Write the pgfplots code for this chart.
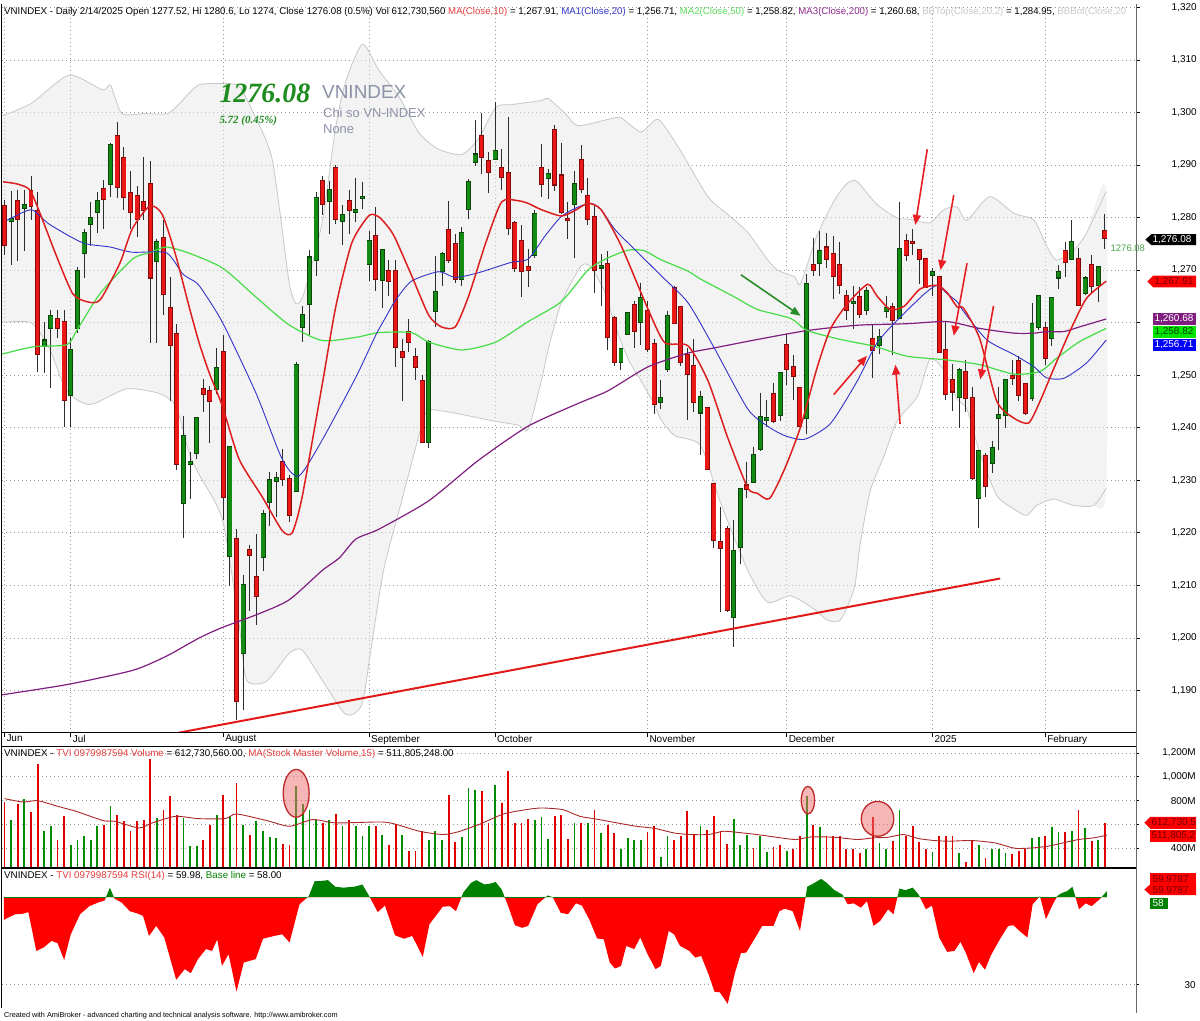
\documentclass[border=0pt]{standalone}
\usepackage{fontspec}
\setmainfont{Liberation Sans}
\newfontfamily\timesfont{Liberation Serif}
\usepackage{pgfplots}
\usepackage{pgfplotstable}
\pgfplotsset{compat=1.18}
\usetikzlibrary{arrows.meta}

\definecolor{cup}{RGB}{20,140,20}
\definecolor{cdn}{RGB}{236,24,24}
\definecolor{cupd}{RGB}{10,70,10}
\definecolor{cdnd}{RGB}{130,10,10}
\definecolor{wick}{RGB}{45,45,45}
\definecolor{ma10}{RGB}{220,30,30}
\definecolor{ma20}{RGB}{50,50,200}
\definecolor{ma50}{RGB}{70,220,70}
\definecolor{ma200}{RGB}{128,30,128}
\definecolor{bbline}{RGB}{200,200,200}
\definecolor{trend}{RGB}{225,25,25}
\definecolor{vgreen}{RGB}{0,140,0}
\definecolor{vred}{RGB}{225,0,0}
\definecolor{vma}{RGB}{170,40,40}
\definecolor{rsired}{RGB}{255,0,0}
\definecolor{rsigreen}{RGB}{0,128,0}
\definecolor{hdrred}{RGB}{230,60,60}
\definecolor{hdrblue}{RGB}{50,50,200}
\definecolor{hdrgreen}{RGB}{90,220,90}
\definecolor{hdrpurple}{RGB}{140,40,140}
\definecolor{hdrgray}{RGB}{200,200,200}
\definecolor{bigtxt}{RGB}{30,140,30}
\definecolor{symgray}{RGB}{140,146,168}
\definecolor{ellfill}{RGB}{240,110,110}
\definecolor{elldraw}{RGB}{190,40,40}
\definecolor{arrred}{RGB}{232,30,36}
\definecolor{arrgreen}{RGB}{40,140,40}

\pgfplotstableread{
i O H L C
0 1282.2 1283.3 1272.9 1274.8
1 1279.3 1285.0 1271.0 1279.8
2 1283.1 1285.3 1271.7 1279.8
3 1281.8 1285.3 1273.6 1282.3
4 1285.1 1288.0 1279.5 1282.2
5 1281.2 1284.9 1250.7 1254.1
6 1255.6 1260.1 1250.4 1256.6
7 1258.9 1262.5 1247.6 1261.2
8 1260.6 1262.5 1257.1 1259.0
9 1260.2 1262.4 1240.2 1245.3
10 1246.3 1257.1 1240.2 1254.7
11 1258.9 1270.6 1258.1 1269.9
12 1273.3 1277.9 1268.5 1277.0
13 1278.8 1282.9 1274.6 1280.0
14 1281.1 1284.9 1277.0 1283.1
15 1285.4 1287.2 1277.8 1283.5
16 1286.4 1294.2 1284.0 1293.8
17 1295.5 1298.1 1283.7 1285.9
18 1291.3 1293.4 1281.4 1283.9
19 1284.7 1288.8 1277.8 1281.0
20 1284.1 1286.0 1276.3 1279.8
21 1282.9 1291.5 1279.5 1281.4
22 1286.4 1290.7 1256.2 1268.6
23 1271.7 1276.0 1256.2 1275.4
24 1276.1 1279.5 1261.5 1265.5
25 1262.7 1268.6 1245.0 1255.8
26 1257.9 1259.7 1232.0 1233.1
27 1225.6 1242.3 1219.0 1238.4
28 1233.1 1235.3 1226.4 1233.4
29 1235.2 1242.0 1234.0 1241.9
30 1247.4 1249.2 1243.0 1246.4
31 1247.0 1248.0 1237.0 1245.0
32 1247.4 1255.2 1246.4 1251.4
33 1254.4 1257.6 1222.4 1226.8
34 1215.6 1236.4 1209.8 1236.4
35 1218.8 1220.8 1184.4 1188.0
36 1197.2 1212.0 1186.3 1210.0
37 1216.8 1217.6 1205.2 1215.8
38 1211.6 1219.8 1202.4 1208.0
39 1215.4 1224.4 1212.7 1223.6
40 1225.8 1231.6 1221.2 1230.0
41 1229.8 1231.6 1223.0 1230.4
42 1233.4 1236.0 1229.0 1230.2
43 1230.2 1231.0 1222.0 1223.4
44 1228.0 1252.6 1228.0 1252.0
45 1259.2 1263.2 1256.4 1261.4
46 1263.6 1273.8 1257.6 1272.4
47 1272.0 1284.8 1268.8 1283.8
48 1287.0 1288.0 1280.4 1282.6
49 1283.2 1287.0 1276.8 1285.2
50 1289.4 1290.0 1278.8 1279.8
51 1279.4 1282.4 1274.8 1280.4
52 1283.2 1285.2 1276.9 1281.4
53 1281.1 1287.6 1279.2 1281.5
54 1283.7 1286.8 1281.6 1283.9
55 1271.2 1277.5 1268.0 1275.6
56 1276.4 1282.0 1266.0 1268.4
57 1268.2 1274.0 1262.7 1273.8
58 1269.8 1271.9 1265.0 1268.0
59 1269.8 1271.9 1251.6 1255.3
60 1254.4 1256.8 1245.1 1253.5
61 1258.3 1260.6 1254.5 1256.4
62 1253.4 1255.2 1249.0 1251.6
63 1248.8 1250.0 1237.0 1237.2
64 1237.2 1256.7 1236.1 1256.3
65 1262.3 1272.7 1259.2 1265.9
66 1269.9 1273.4 1266.9 1273.0
67 1277.6 1283.1 1271.4 1272.0
68 1275.0 1276.8 1267.5 1268.4
69 1268.4 1278.2 1267.0 1277.1
70 1281.6 1287.4 1279.8 1286.7
71 1290.6 1298.6 1289.8 1292.0
72 1295.6 1300.0 1288.3 1291.6
73 1290.7 1292.5 1284.7 1288.7
74 1291.1 1302.0 1290.9 1292.7
75 1289.5 1293.1 1285.3 1287.8
76 1288.4 1299.1 1276.6 1278.1
77 1279.0 1279.4 1269.7 1270.4
78 1275.5 1278.5 1264.9 1269.9
79 1270.5 1274.1 1266.8 1270.0
80 1272.9 1281.4 1272.3 1280.7
81 1289.5 1294.0 1284.0 1286.4
82 1287.6 1289.2 1283.5 1288.3
83 1296.7 1297.6 1285.1 1286.3
84 1288.0 1294.2 1280.6 1281.1
85 1279.7 1282.9 1276.0 1279.5
86 1282.6 1288.8 1272.3 1286.4
87 1291.0 1293.8 1284.6 1285.4
88 1284.1 1287.6 1278.5 1279.8
89 1280.1 1282.2 1265.6 1270.0
90 1270.5 1273.0 1263.2 1270.8
91 1271.1 1273.7 1254.7 1257.3
92 1260.8 1261.3 1251.8 1252.5
93 1252.5 1255.1 1251.0 1254.9
94 1257.8 1262.0 1257.7 1261.9
95 1263.4 1264.2 1255.1 1258.5
96 1260.2 1267.6 1255.8 1264.6
97 1262.3 1264.2 1254.4 1254.9
98 1255.9 1256.8 1242.6 1244.6
99 1244.9 1249.1 1243.6 1245.7
100 1251.2 1262.3 1250.7 1261.3
101 1266.6 1267.0 1259.8 1259.9
102 1262.9 1263.2 1251.7 1252.5
103 1253.9 1255.1 1241.5 1250.3
104 1251.8 1256.8 1243.0 1244.9
105 1242.9 1247.0 1234.8 1245.9
106 1243.8 1243.9 1232.0 1232.1
107 1229.3 1229.4 1217.1 1218.6
108 1218.2 1224.9 1204.9 1217.1
109 1220.7 1221.2 1204.9 1205.3
110 1204.0 1222.5 1198.2 1216.6
111 1217.3 1228.4 1214.1 1228.3
112 1229.0 1233.4 1226.6 1228.3
113 1229.7 1236.4 1229.4 1234.8
114 1236.0 1246.7 1235.5 1242.0
115 1241.4 1245.2 1240.2 1241.8
116 1246.5 1248.5 1240.9 1241.2
117 1242.5 1250.6 1241.2 1250.5
118 1255.8 1257.8 1248.2 1251.1
119 1251.6 1253.8 1245.2 1249.8
120 1247.5 1247.8 1240.2 1240.3
121 1241.8 1269.3 1238.8 1267.4
122 1271.0 1276.1 1268.8 1270.1
123 1271.4 1277.4 1268.8 1273.6
124 1274.3 1277.1 1270.4 1272.1
125 1273.1 1276.4 1264.5 1268.8
126 1270.9 1275.4 1265.4 1267.1
127 1265.0 1266.2 1260.5 1262.5
128 1263.8 1266.9 1258.8 1264.0
129 1264.9 1266.8 1260.8 1261.6
130 1262.5 1266.8 1261.5 1266.0
131 1256.8 1259.6 1249.5 1254.8
132 1255.7 1258.8 1254.1 1257.3
133 1262.3 1265.1 1260.8 1262.8
134 1262.9 1263.8 1253.8 1260.5
135 1260.8 1282.9 1260.8 1274.1
136 1275.6 1276.9 1271.8 1272.8
137 1275.4 1277.8 1272.8 1275.2
138 1273.8 1273.9 1267.4 1272.1
139 1272.1 1272.4 1266.7 1266.8
140 1269.0 1270.4 1265.1 1269.6
141 1268.6 1268.7 1254.5 1254.5
142 1254.8 1260.1 1245.2 1246.5
143 1249.1 1252.1 1243.2 1246.9
144 1245.9 1251.3 1239.9 1251.0
145 1250.6 1252.9 1242.9 1245.7
146 1245.6 1247.8 1230.1 1230.4
147 1226.7 1235.8 1220.9 1235.6
148 1234.7 1235.2 1226.9 1229.0
149 1233.2 1237.4 1231.3 1236.2
150 1241.8 1247.8 1235.8 1242.4
151 1242.4 1249.2 1239.9 1249.1
152 1249.9 1252.9 1248.1 1249.4
153 1252.7 1253.7 1245.0 1246.2
154 1248.3 1248.4 1242.4 1242.8
155 1245.6 1263.7 1245.0 1259.7
156 1259.2 1265.3 1258.6 1265.1
157 1258.9 1260.2 1251.9 1253.2
158 1257.0 1264.7 1255.6 1264.6
159 1268.6 1271.0 1266.4 1269.7
160 1273.6 1275.4 1268.6 1271.6
161 1272.2 1279.5 1271.9 1275.3
162 1272.2 1274.3 1263.2 1263.3
163 1265.6 1268.8 1265.3 1268.4
164 1271.0 1272.8 1265.6 1266.9
165 1267.2 1270.7 1264.0 1270.5
166 1277.52 1280.6 1274.0 1276.08
}\ohlc

\pgfplotstableread{
i v
1 639
3 814
6 550
7 586
10 433
11 467
12 503
13 475
14 586
16 758
23 655
27 655
28 419
29 419
32 683
34 661
36 600
38 633
39 550
40 494
41 489
44 919
45 772
46 725
47 642
49 642
51 586
53 586
54 503
55 586
57 517
60 517
64 467
65 550
66 467
69 494
70 905
71 892
74 928
80 642
81 661
82 483
86 614
88 614
90 530
93 400
94 489
95 475
96 467
99 328
100 503
105 586
110 650
111 428
112 511
114 503
115 372
118 383
121 836
123 578
130 392
132 447
133 392
135 725
140 372
144 364
147 433
149 400
150 400
151 364
155 489
156 494
158 578
159 539
161 550
163 572
165 475
}\volg

\pgfplotstableread{
i v
0 786
2 772
4 705
5 1106
8 467
9 669
15 600
17 678
18 633
19 550
20 628
21 642
22 1150
24 725
25 842
26 678
30 467
31 600
33 850
35 947
37 511
42 439
43 433
48 614
50 689
52 642
56 586
58 433
59 606
61 383
62 383
63 550
67 844
68 455
72 878
73 614
75 780
76 1050
77 614
78 614
79 647
83 669
84 678
85 480
87 614
89 725
91 594
92 530
97 539
98 586
101 467
102 503
103 717
104 511
106 558
107 669
108 550
109 439
113 405
116 411
117 428
119 392
120 503
122 600
124 503
125 503
126 503
127 400
128 392
129 364
131 661
134 461
136 503
137 586
138 455
139 392
141 503
142 503
143 503
145 289
146 467
148 322
152 350
153 383
154 400
157 503
160 539
162 725
164 461
166 613
}\volr

\pgfplotstableread{
i r
-0.1 58
-0.1 50.7
0.5 51.4
1.6 52.5
2.8 52.7
3.6 53.2
4.8 40.8
5.9 41.9
7.1 44
8 43.3
9 37.9
10 46.1
11.4 52.5
12.8 55.1
14.3 56.4
15.1 56.9
15.9 61
16.6 57.5
17.7 56.2
18.9 53.5
20 52.8
20.9 52
21.8 45.6
22.9 48.8
24.1 45.1
25.9 31.6
27.2 35
28.1 33.7
29.2 38.2
30.4 41.4
31.3 40.8
32.1 44.5
32.8 36
33.8 39.8
35 27.8
36.1 37.1
37.9 38.2
39 44.7
40.7 45.6
41.9 46.1
43 43.5
44.5 55.7
45.9 58.3
46.8 63.1
47.6 63.1
48.8 63.4
49.9 61.3
51.1 61
52.8 61.3
54 62
55.1 58
56.3 53.2
57.4 55.3
58.9 45.8
60.3 44.7
61.5 45.6
63.1 38.9
64.1 49.3
66.1 54.9
67.2 55.1
68.1 53.5
69.2 59.4
70.4 62.6
71.2 63.4
72.4 62
73.3 62.3
74.1 62.8
75 60.4
75.8 56.2
77 49
78.1 48.2
79 48.8
80.4 55.7
81.9 58.5
82.7 58
83.9 53
85 52.5
86.2 56
87.1 55.3
88.2 50.9
89.4 44.8
90.4 44.5
91.3 37.1
92.1 35.2
93 36
93.8 42.4
95 41.4
95.9 45.1
97 39.8
98.2 35
99 36
100.2 47.2
101 46.1
101.9 42.4
103.3 40.8
104.2 38.7
105.1 39.2
106.2 33.4
107.1 27.8
107.9 27.6
109.1 23.9
110.2 33.9
111.1 40.1
111.9 40.3
113.1 44.5
114.3 48.8
116 48.8
116.9 53.5
117.7 54.3
118.9 53.5
120 47.2
121.1 61.3
122 62.3
123.2 63.8
124 62.6
125.2 60.2
126.4 58.8
127.2 55.7
128.1 56
129.2 54.6
130.1 56.7
131.1 48.8
132.1 50.4
133.3 54.1
134.1 52.5
135 60.7
135.9 60.2
137 61
137.9 58.8
139 54.1
139.9 55.3
141 45.1
142.2 40.5
143.3 40.8
144.2 43.7
145 40.3
146.2 33.7
147 37.3
147.9 34.8
148.8 39.4
150.2 44.7
151.4 48.8
152.2 49
153.1 47.2
154.3 45.1
155.1 55.7
156.2 58.3
157.1 50.9
158 55.1
158.8 58.3
159.4 59.2
160.3 59.9
161.1 61.3
162.1 54.1
163.1 56
164 55.1
165.2 57.3
166.3 59.9
166.3 58
}\rsi

\pgfplotsset{
  panel/.style={scale only axis, width=1138pt, xmin=-0.376, xmax=170.75,
    axis line style={draw=none}, ytick pos=right, yticklabel pos=right,
    tick align=outside, major tick length=3pt, tick style={black, line width=0.6pt},
    yticklabel style={anchor=east, xshift=60pt, font=\fontsize{10}{12}\selectfont},
    grid style={gray!80, line width=0.6pt, dash pattern=on 0.7pt off 3.3pt},
    /pgf/number format/assume math mode=true},
  candle/.style={draw=none, no markers, forget plot,
    error bars/y dir=minus, error bars/y explicit, error bars/error mark=none}
}

\begin{document}
\begin{tikzpicture}[x=1pt,y=1pt]
\fill[white] (0,0) rectangle (1200,1020);

% ================= PRICE PANEL =================
\begin{axis}[panel, at={(2pt,289pt)}, anchor=south west, height=730pt,
  ymin=1181.97, ymax=1320.49,
  ytick={1190,1200,...,1320},
  yticklabels={{1,190},{1,200},{1,210},{1,220},{1,230},{1,240},{1,250},{},{1,270},{1,280},{1,290},{1,300},{1,310},{1,320}},
  xtick={0,10,33,55,74,97,118,140,157},
  xticklabels={Jun,Jul,August,September,October,November,December,2025,February},
  xtick pos=bottom, major tick length=4pt,
  xticklabel style={anchor=north west, xshift=-1.5pt, yshift=5pt, font=\fontsize{10}{12}\selectfont},
  xmajorgrids, ymajorgrids]

% Bollinger band area (upper band forward, lower band backward)
\addplot[fill=black!9, fill opacity=0.5, draw=none, smooth, tension=0.4] coordinates {
(-0.7,1299.2) (4,1301.7) (9.7,1307.1) (14.8,1304.3) (16,1305.2) (17.7,1299.8) (21.1,1299.8) (24.6,1299.8) (26.4,1301.7) (29.2,1305.2) (32.7,1305.5) (35.4,1305) (37.5,1300) (40.4,1291) (42.9,1268) (44,1263.6) (45.2,1265.7) (47.9,1279) (50,1297.5) (51.5,1306) (54,1313) (56.5,1308) (59.5,1303) (62.6,1296) (65.5,1293) (69,1292) (71.5,1295) (74.1,1301) (76.5,1301.5) (81,1302.3) (82,1302.7) (84.6,1299.8) (86.5,1297.5) (91.1,1298.7) (93,1299) (96,1296.3) (98.6,1298.7) (101.6,1293.5) (106.1,1284) (109.1,1280.6) (112.1,1277.2) (115.1,1272) (116.6,1270) (119.2,1268.7) (120.1,1267.4) (122.6,1276.7) (125.2,1283.3) (127.1,1286.5) (128.6,1286.9) (131.6,1282.5) (134.7,1279.9) (136.6,1279.7) (139.6,1279) (141.7,1281.5) (143.7,1282) (145.2,1279.5) (148.6,1284) (152.3,1280.8) (155.3,1279.5) (157.2,1274.6) (158.7,1271.9) (161.3,1273.8) (163.2,1277) (166.2,1285)
(166.2,1228.5) (164.3,1225.2) (161.3,1225.2) (158.3,1226.4) (155.7,1225.2) (154.2,1223.3) (152.3,1224.5) (149.7,1227.1) (147.1,1235.3) (145.2,1243.5) (143.7,1245.5) (141.7,1251) (139.6,1253) (137.7,1245.9) (134.7,1241.4) (132.7,1234.7) (130.6,1228) (129.1,1218) (128.2,1209.5) (126.1,1203.4) (124.1,1203.4) (122.2,1205.4) (118.6,1208) (115.1,1206.8) (112.1,1212.9) (108,1225.8) (105,1236.6) (101.1,1238.5) (99,1241.6) (98.1,1244.2) (96,1249) (94.1,1253) (92.1,1259.4) (90.6,1265.7) (88.5,1270.5) (87,1270.8) (84,1263.8) (82,1254.8) (81,1249) (79,1239.7) (77.5,1240.5) (74.1,1241.2) (64.4,1243.4) (62.9,1240.2) (59.9,1226) (57.2,1213) (55.3,1198) (53.9,1187.3) (51.5,1185.4) (47.9,1192) (44.9,1197.7) (42.9,1197) (39.5,1191.7) (36.5,1192) (35.4,1202.5) (32.9,1222.4) (29.4,1231) (27.9,1235) (25.9,1244) (23.4,1246.5) (18.4,1247.4) (12.9,1244.4) (9.4,1247) (6.8,1255) (4,1260) (-0.7,1260)};
\addplot[draw=bbline, line width=0.8pt, smooth, tension=0.4] coordinates {
(-0.7,1299.2) (4,1301.7) (9.7,1307.1) (14.8,1304.3) (16,1305.2) (17.7,1299.8) (21.1,1299.8) (24.6,1299.8) (26.4,1301.7) (29.2,1305.2) (32.7,1305.5) (35.4,1305) (37.5,1300) (40.4,1291) (42.9,1268) (44,1263.6) (45.2,1265.7) (47.9,1279) (50,1297.5) (51.5,1306) (54,1313) (56.5,1308) (59.5,1303) (62.6,1296) (65.5,1293) (69,1292) (71.5,1295) (74.1,1301) (76.5,1301.5) (81,1302.3) (82,1302.7) (84.6,1299.8) (86.5,1297.5) (91.1,1298.7) (93,1299) (96,1296.3) (98.6,1298.7) (101.6,1293.5) (106.1,1284) (109.1,1280.6) (112.1,1277.2) (115.1,1272) (116.6,1270) (119.2,1268.7) (120.1,1267.4) (122.6,1276.7) (125.2,1283.3) (127.1,1286.5) (128.6,1286.9) (131.6,1282.5) (134.7,1279.9) (136.6,1279.7) (139.6,1279) (141.7,1281.5) (143.7,1282) (145.2,1279.5) (148.6,1284) (152.3,1280.8) (155.3,1279.5) (157.2,1274.6) (158.7,1271.9) (161.3,1273.8) (163.2,1277) (166.2,1285)};
\addplot[draw=bbline, line width=0.8pt, smooth, tension=0.4] coordinates {
(-0.7,1260) (4,1260) (6.8,1255) (9.4,1247) (12.9,1244.4) (18.4,1247.4) (23.4,1246.5) (25.9,1244) (27.9,1235) (29.4,1231) (32.9,1222.4) (35.4,1202.5) (36.5,1192) (39.5,1191.7) (42.9,1197) (44.9,1197.7) (47.9,1192) (51.5,1185.4) (53.9,1187.3) (55.3,1198) (57.2,1213) (59.9,1226) (62.9,1240.2) (64.4,1243.4) (74.1,1241.2) (77.5,1240.5) (79,1239.7) (81,1249) (82,1254.8) (84,1263.8) (87,1270.8) (88.5,1270.5) (90.6,1265.7) (92.1,1259.4) (94.1,1253) (96,1249) (98.1,1244.2) (99,1241.6) (101.1,1238.5) (105,1236.6) (108,1225.8) (112.1,1212.9) (115.1,1206.8) (118.6,1208) (122.2,1205.4) (124.1,1203.4) (126.1,1203.4) (128.2,1209.5) (129.1,1218) (130.6,1228) (132.7,1234.7) (134.7,1241.4) (137.7,1245.9) (139.6,1253) (141.7,1251) (143.7,1245.5) (145.2,1243.5) (147.1,1235.3) (149.7,1227.1) (152.3,1224.5) (154.2,1223.3) (155.7,1225.2) (158.3,1226.4) (161.3,1225.2) (164.3,1225.2) (166.2,1228.5)};

% wicks
\addplot[candle, error bars/error bar style={line width=1pt, draw=wick}]
  table[x=i, y=H, y error minus expr={\thisrow{H}-\thisrow{L}}] {\ohlc};
% up bodies (dark outline, then fill)
\addplot[candle, restrict expr to domain={\thisrow{C}-\thisrow{O}}{0:500},
  error bars/error bar style={line width=5pt, draw=cupd}]
  table[x=i, y expr={\thisrow{C}+0.2}, y error minus expr={\thisrow{C}-\thisrow{O}+0.4}] {\ohlc};
\addplot[candle, restrict expr to domain={\thisrow{C}-\thisrow{O}}{0:500},
  error bars/error bar style={line width=3.4pt, draw=cup}]
  table[x=i, y=C, y error minus expr={\thisrow{C}-\thisrow{O}}] {\ohlc};
% down bodies
\addplot[candle, restrict expr to domain={\thisrow{C}-\thisrow{O}}{-500:0},
  error bars/error bar style={line width=5pt, draw=cdnd}]
  table[x=i, y expr={\thisrow{O}+0.2}, y error minus expr={\thisrow{O}-\thisrow{C}+0.4}] {\ohlc};
\addplot[candle, restrict expr to domain={\thisrow{C}-\thisrow{O}}{-500:0},
  error bars/error bar style={line width=3.4pt, draw=cdn}]
  table[x=i, y=O, y error minus expr={\thisrow{O}-\thisrow{C}}] {\ohlc};

% MA200
\addplot[ma200, line width=1.2pt, smooth, tension=0.4] coordinates {
(-0.7,1189.1) (9.4,1191.1) (19.3,1193.8) (24.4,1196.5) (29.4,1200) (32.9,1202) (38,1204.4) (42.9,1207.2) (47.9,1212.8) (50.5,1215.2) (53,1218.8) (56.5,1220.7) (64,1226.1) (71.5,1233.8) (79,1240.3) (86.5,1244.6) (91,1247) (97.1,1251.6) (103.1,1254.2) (107.1,1255.2) (113.6,1256.8) (121.1,1258.5) (128.6,1259.5) (136.2,1259.8) (142.2,1260.2) (147.1,1258.9) (152.3,1258) (155.3,1258) (157.2,1258.3) (159.8,1258.3) (162.2,1259.2) (166.2,1260.7)};
% MA50
\addplot[ma50, line width=1.2pt, smooth, tension=0.4] coordinates {
(-0.7,1253.9) (4.3,1255.4) (9.4,1255.8) (10.9,1258.5) (14.4,1265.5) (19.3,1272.1) (21.9,1273.3) (24.4,1274.4) (27.9,1273.2) (32.9,1270.4) (38,1264.8) (42.9,1259.6) (47.9,1256.6) (53,1257.2) (56.5,1258.1) (61.4,1258.1) (64,1256.3) (69,1254.8) (74.1,1256.3) (79,1260.2) (84,1264) (88,1270) (91,1272.3) (94.1,1273.8) (96.5,1273.7) (99,1272) (103.1,1269.8) (105,1268.3) (110.1,1264.9) (113.6,1262.5) (118.6,1260.8) (121.1,1258.5) (126.1,1256.8) (131.2,1255.5) (136.2,1253.6) (142.2,1252.9) (147.1,1252) (152.3,1250.2) (156.2,1250.7) (158.7,1253.2) (162.2,1256.4) (166.2,1258.9)};
% MA20
\addplot[ma20, line width=0.9pt, smooth, tension=0.4] coordinates {
(0.4,1279.5) (2.8,1281) (4.3,1281.4) (6.8,1278.7) (11.8,1275.2) (15.9,1274.4) (19.3,1273.4) (24.4,1273.3) (26.8,1269.4) (27.9,1268.4) (29.4,1267) (32.9,1260) (38,1246.4) (41.9,1234) (44.4,1230.8) (47.9,1237.6) (53,1249.6) (56,1257.6) (57.5,1261) (59,1264.3) (61.4,1267.9) (65.5,1269.7) (68,1268.6) (71.5,1269.5) (76.5,1271.5) (79,1272.1) (81.6,1276.6) (84,1280.2) (86.5,1282) (88.5,1282.7) (90,1281.5) (92.1,1277.7) (95.1,1273.9) (99,1269) (103.1,1263.8) (107.1,1255.1) (112.1,1243.6) (115.1,1240.3) (117.7,1238.5) (120.7,1237.8) (124.6,1240.8) (128.6,1248.8) (131.6,1256.1) (134.7,1260.5) (138.7,1265.4) (140.7,1267.1) (142.2,1265.5) (143.7,1264) (144.7,1262.1) (148.2,1256.7) (152.3,1253.9) (155.3,1251.6) (157.2,1249.5) (159.8,1249.4) (163.2,1252.3) (166.2,1256.7)};
% MA10
\addplot[ma10, line width=1.5pt, smooth, tension=0.4] coordinates {
(-0.2,1286.8) (1.9,1286.4) (3.8,1285.3) (5.3,1281) (7.9,1272.5) (10.3,1265.5) (12.4,1264) (14.4,1264.3) (17.4,1271.3) (19.3,1277.9) (21.9,1282.2) (23.8,1280.6) (25.9,1272.5) (27.9,1262.8) (29.4,1256) (30.9,1250.4) (32.9,1244) (35.4,1234) (38.9,1226.8) (41.9,1220.4) (43.4,1220) (44.9,1226.8) (47.9,1248) (50,1263.2) (52.4,1275.2) (55,1280.4) (56.5,1280.1) (58,1278) (59,1275.9) (61.4,1269) (64,1261.4) (65.9,1259.2) (68,1259.2) (70,1265) (72.6,1275.2) (75,1283) (77.5,1283.2) (79,1282.7) (81,1281.5) (84,1280.3) (86,1281.3) (88,1282.7) (90,1281.5) (93,1274.7) (97.1,1262.5) (99.6,1256.2) (103.1,1255.6) (106.1,1249) (109.1,1238.1) (112.1,1228.6) (113.6,1227.5) (115.4,1226.5) (117.7,1232.2) (120.1,1240.2) (122.6,1251.5) (124.6,1258.8) (127.1,1263.5) (130.2,1267.3) (131.6,1265.1) (133.6,1262.5) (135.7,1263.1) (138.1,1266.4) (140.7,1267.1) (142.2,1265.7) (143.7,1263) (144.7,1262.7) (147.1,1257) (149.7,1245) (152.3,1241.8) (154.5,1240.9) (156.2,1245) (158.3,1251.3) (160.7,1258.3) (163.2,1264.6) (166.2,1267.9)};

% trend line
\addplot[trend, line width=2pt] coordinates {(26.1,1181.9) (150.2,1211.3)};

% arrows
\draw[arrgreen, line width=1.6pt, -{Triangle[length=10pt,width=8pt]}] (axis cs:111.1,1269.1) -- (axis cs:120.1,1261.3);
\draw[arrred, line width=1.6pt, -{Triangle[length=10pt,width=8pt]}] (axis cs:125.1,1246.3) -- (axis cs:130.1,1253.7);
\draw[arrred, line width=1.6pt, -{Triangle[length=10pt,width=8pt]}] (axis cs:135.1,1240.7) -- (axis cs:134.4,1252);
\draw[arrred, line width=1.6pt, -{Triangle[length=10pt,width=8pt]}] (axis cs:139.2,1293) -- (axis cs:137.4,1278.6);
\draw[arrred, line width=1.6pt, -{Triangle[length=10pt,width=8pt]}] (axis cs:143.2,1284.3) -- (axis cs:141.2,1270);
\draw[arrred, line width=1.6pt, -{Triangle[length=10pt,width=8pt]}] (axis cs:145.2,1271.3) -- (axis cs:143.2,1257.5);
\draw[arrred, line width=1.6pt, -{Triangle[length=10pt,width=8pt]}] (axis cs:149.2,1263.2) -- (axis cs:147.2,1249.2);
\end{axis}

% ================= VOLUME PANEL =================
\begin{axis}[panel, at={(2pt,153pt)}, anchor=south west, height=122pt,
  ymin=235.8, ymax=1252.5, xtick=\empty,
  ytick={400,600,800,1000,1200}, yticklabels={400M,{},800M,{1,000M},{1,200M}},
  ymajorgrids]
\addplot[ycomb, draw=vgreen, line width=1.8pt, mark=none] table[x=i, y=v] {\volg};
\addplot[ycomb, draw=vred, line width=1.8pt, mark=none] table[x=i, y=v] {\volr};
\addplot[vma, line width=0.9pt, smooth, tension=0.4] coordinates {
(0,817) (2.8,789) (5,800) (8,753) (10.8,711) (14.9,633) (16.6,628) (20.3,572) (22.3,614) (25.8,669) (29.2,650) (33.3,650) (35,689) (39.6,633) (43,586) (46.5,642) (50,614) (56.9,622) (59.2,600) (62.6,544) (66.1,517) (68.4,539) (71.8,606) (75.3,689) (78.7,725) (81,739) (84.2,725) (86.8,669) (89.3,646) (92.4,614) (95.3,586) (98.2,567) (101,530) (103.3,517) (106.2,517) (108.5,544) (111.4,530) (114.3,511) (117.1,489) (119.4,475) (121.7,497) (125.2,494) (128.7,475) (131,489) (133.3,494) (135.6,517) (137.9,483) (140.2,467) (142.5,461) (145.9,467) (149.4,447) (151.7,411) (152.8,400) (155.1,405) (157.4,419) (159.7,447) (162,475) (164.3,489) (166.3,512)};
\draw[elldraw, line width=1.3pt, fill=ellfill, fill opacity=0.5] (axis cs:44,861) ellipse [x radius=13pt, y radius=24pt];
\draw[elldraw, line width=1.3pt, fill=ellfill, fill opacity=0.5] (axis cs:121.2,804) ellipse [x radius=6.7pt, y radius=13.8pt];
\draw[elldraw, line width=1.3pt, fill=ellfill, fill opacity=0.5] (axis cs:131.7,648) ellipse [x radius=16.3pt, y radius=17.5pt];
\end{axis}

% ================= RSI PANEL =================
\begin{axis}[panel, at={(2pt,13pt)}, anchor=south west, height=140pt,
  ymin=22.68, ymax=67.23, xtick=\empty, ytick={30}, ymajorgrids]
\begin{scope}
\clip (axis cs:-5,15) rectangle (axis cs:175,58);
\addplot[fill=rsired, draw=none] table[x=i, y=r] {\rsi};
\end{scope}
\begin{scope}
\clip (axis cs:-5,58) rectangle (axis cs:175,75);
\addplot[fill=rsigreen, draw=none] table[x=i, y=r] {\rsi};
\end{scope}
\end{axis}

% ================= FRAME LINES =================
\draw[black, line width=1pt] (2,13) -- (2,1020);
\draw[black, line width=1pt] (2,289) -- (1140,289);
\draw[black, line width=1.5pt] (2,275) -- (1140,275);
\draw[black, line width=1.5pt] (2,153) -- (1140,153);
\draw[black!60, line width=1.5pt] (1140,8) -- (1140,1020);

% ================= TEXTS =================
\node[anchor=base west, inner sep=0pt, font=\fontsize{9.7}{11}\selectfont] at (4,1009)
 {VNINDEX - Daily 2/14/2025 Open 1277.52, Hi 1280.6, Lo 1274, Close 1276.08 (0.5\%) Vol 612,730,560 \textcolor{hdrred}{MA(Close,10)} = 1,267.91, \textcolor{hdrblue}{MA1(Close,20)} = 1,256.71, \textcolor{hdrgreen}{MA2(Close,50)} = 1,258.82, \textcolor{hdrpurple}{MA3(Close,200)} = 1,260.68, \textcolor{hdrgray}{BBTop(Close,20,2)} = 1,284.95, \textcolor{hdrgray}{BBBot(Close,20}};

\node[anchor=base west, inner sep=0pt, text=bigtxt, font=\fontsize{28}{30}\timesfont\bfseries\itshape] at (220,921) {1276.08};
\node[anchor=base west, inner sep=0pt, text=bigtxt, font=\fontsize{11}{12}\timesfont\bfseries\itshape] at (220,900) {5.72 (0.45\%)};
\node[anchor=base west, inner sep=0pt, text=symgray, font=\fontsize{19}{21}\selectfont] at (323,925) {VNINDEX};
\node[anchor=base west, inner sep=0pt, text=symgray, font=\fontsize{13}{15}\selectfont] at (324,906) {Chi so VN-INDEX};
\node[anchor=base west, inner sep=0pt, text=symgray, font=\fontsize{13}{15}\selectfont] at (324,890) {None};

\node[anchor=base west, inner sep=0pt, font=\fontsize{9.8}{11}\selectfont] at (4,265.5)
 {VNINDEX - \textcolor{hdrred}{TVI 0979987594 Volume} = 612,730,560.00, \textcolor{hdrred}{MA(Stock Master Volume,15)} = 511,805,248.00};
\node[anchor=base west, inner sep=0pt, font=\fontsize{9.8}{11}\selectfont] at (4,142.5)
 {VNINDEX - \textcolor{hdrred}{TVI 0979987594 RSI(14)} = 59.98, \textcolor{rsigreen}{Base line} = 58.00};
\node[anchor=base west, inner sep=0pt, font=\fontsize{7.3}{8}\selectfont] at (4,3.5)
 {Created with AmiBroker - advanced charting and technical analysis software. http://www.amibroker.com};

% last price label next to candle
\node[anchor=west, inner sep=0pt, text=bigtxt!80, font=\fontsize{9.5}{11}\selectfont] at (1114,774.5) {1276.08};

% right side value boxes
\fill[black] (1149,783.5) -- (1155,789) -- (1200,789) -- (1200,778) -- (1155,778) -- cycle;
\node[anchor=west, inner sep=0pt, text=white, font=\fontsize{10}{11}\selectfont] at (1156,783.5) {1,276.08};
\fill[red] (1151,741.5) -- (1157,747.5) -- (1200,747.5) -- (1200,735.5) -- (1157,735.5) -- cycle;
\node[anchor=west, inner sep=0pt, text=red!45!black, font=\fontsize{10}{11}\selectfont] at (1158,741.5) {1,267.91};
\fill[ma200] (1157,710) rectangle (1200,698);
\node[anchor=west, inner sep=0pt, text=white, font=\fontsize{10}{11}\selectfont] at (1158,704) {1,260.68};
\fill[green!90!black] (1157,697) rectangle (1200,685);
\node[anchor=west, inner sep=0pt, text=black!75!green, font=\fontsize{10}{11}\selectfont] at (1158,691) {1,258.82};
\fill[blue] (1157,684) rectangle (1200,672);
\node[anchor=west, inner sep=0pt, text=white, font=\fontsize{10}{11}\selectfont] at (1158,678) {1,256.71};

\fill[red] (1148,198.5) -- (1154,204.5) -- (1200,204.5) -- (1200,192.5) -- (1154,192.5) -- cycle;
\node[anchor=west, inner sep=0pt, text=red!45!black, font=\fontsize{10}{11}\selectfont] at (1155,198.5) {612,730,5};
\fill[red] (1154,191.5) rectangle (1200,179.5);
\node[anchor=west, inner sep=0pt, text=red!45!black, font=\fontsize{10}{11}\selectfont] at (1155,185.5) {511,805,2};

\fill[red] (1154,148) rectangle (1200,137);
\node[anchor=west, inner sep=0pt, text=red!45!black, font=\fontsize{10}{11}\selectfont] at (1156,142.5) {59.9787};
\fill[red] (1148,131.5) -- (1154,137) -- (1200,137) -- (1200,126) -- (1154,126) -- cycle;
\node[anchor=west, inner sep=0pt, text=red!45!black, font=\fontsize{10}{11}\selectfont] at (1156,131.5) {59.9787};
\fill[rsigreen] (1154,123) rectangle (1172,112);
\node[anchor=west, inner sep=0pt, text=white, font=\fontsize{10}{11}\selectfont] at (1156,117.5) {58};
\end{tikzpicture}
\end{document}
